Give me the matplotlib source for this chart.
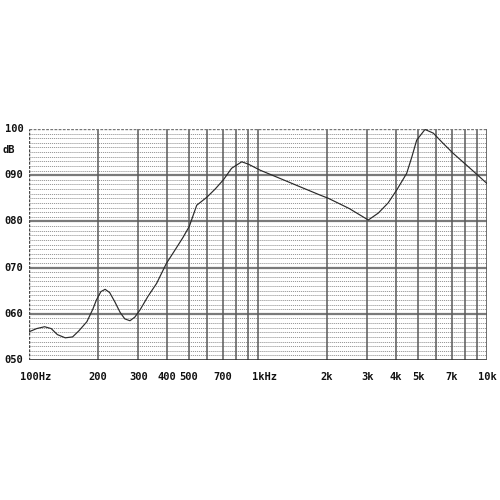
import matplotlib
matplotlib.use("Agg")
import matplotlib.pyplot as plt
import matplotlib.transforms as mtransforms
import numpy as np

freq_hz = [100, 108, 117, 125, 133, 144, 155, 165, 179, 190, 197, 206, 215, 225,
           237, 250, 262, 276, 290, 305, 330, 361, 398, 434, 470, 501, 540, 597,
           650, 706, 767, 849, 907, 1020, 1248, 1525, 1866, 2028, 2500, 3031,
           3352, 3700, 4034, 4459, 4700, 4932, 5361, 5829, 6400, 7129, 8433, 10000]
level_db = [56.1, 56.8, 57.2, 56.8, 55.5, 54.8, 55.0, 56.3, 58.3, 61.0, 63.0, 64.8,
            65.3, 64.6, 62.6, 60.3, 58.9, 58.5, 59.3, 60.8, 63.7, 66.6, 70.9, 73.8,
            76.5, 78.9, 83.5, 85.2, 87.0, 89.0, 91.5, 92.9, 92.4, 91.1, 89.3, 87.5,
            85.7, 85.0, 82.8, 80.3, 81.8, 84.0, 86.8, 90.4, 94.0, 97.6, 99.9, 99.1,
            97.0, 94.7, 91.5, 88.2]

x_tick_vals = [100, 200, 300, 400, 500, 700, 1000, 2000, 3000, 4000, 5000, 7000, 10000]
x_tick_labels = ["100Hz", "200", "300", "400", "500", "700", "1kHz",
                 "2k", "3k", "4k", "5k", "7k", "10k"]
y_tick_vals = [100, 90, 80, 70, 60, 50]
y_tick_labels = ["100", "090", "080", "070", "060", "050"]
y_unit = "dB"

fig = plt.figure(figsize=(5, 5), dpi=100)
ax = fig.add_axes([0.058, 0.28, 0.916, 0.462])
ax.set_xscale("log")
ax.set_xlim(100, 10000)
ax.set_ylim(50, 100)

# minor horizontal dotted lines every 1 dB
for v in range(51, 100):
    if v % 10 == 0:
        continue
    ax.axhline(v, color="#999999", lw=0.7, ls=(0, (1.2, 0.9)), zorder=1)
# major horizontal lines
for v in range(60, 100, 10):
    ax.axhline(v, color="#7a7a7a", lw=1.6, zorder=2)
# vertical lines
vlines = list(range(200, 1000, 100)) + list(range(1000, 10000, 1000))
for f in vlines:
    ax.axvline(f, color="#5a5a5a", lw=1.1, zorder=2)

ax.plot(freq_hz, level_db, color="#2a2a2a", lw=0.85, zorder=3)

for s in ["top", "right", "bottom", "left"]:
    ax.spines[s].set_visible(False)
ax.axhline(50, color="#333333", lw=1.2, zorder=2)
ax.axhline(100, color="#777777", lw=1.0, ls=(0, (2, 1)), zorder=2)
ax.axvline(100, color="#444444", lw=1.0, ls=(0, (2, 1)), zorder=2)
ax.axvline(10000, color="#555555", lw=1.2, zorder=2)

ax.set_xticks([])
ax.set_yticks([])
ax.minorticks_off()

font = dict(family="DejaVu Sans Mono", weight="bold", size=7.5, color="#111111")
tr_x = mtransforms.blended_transform_factory(ax.transData, ax.transAxes)
for v, lab in zip(x_tick_vals, x_tick_labels):
    if lab.endswith("Hz"):
        nchar = len(lab) - 2
        t = mtransforms.offset_copy(tr_x, fig=fig, x=-nchar * 0.6 * 7.5 / 2, y=-12, units="points")
        ax.text(v, 0, lab, transform=t, ha="left", va="center", **font)
    else:
        t = mtransforms.offset_copy(tr_x, fig=fig, x=0, y=-12, units="points")
        ax.text(v, 0, lab, transform=t, ha="center", va="center", **font)

tr_y = mtransforms.blended_transform_factory(ax.transAxes, ax.transData)
for v, lab in zip(y_tick_vals, y_tick_labels):
    t = mtransforms.offset_copy(tr_y, fig=fig, x=-4, y=0, units="points")
    ax.text(0, v, lab, transform=t, ha="right", va="center", **font)
t = mtransforms.offset_copy(tr_y, fig=fig, x=-19, y=0, units="points")
ax.text(0, 95.5, y_unit, transform=t, ha="left", va="center", **font)

fig.savefig("out.png", dpi=100)
